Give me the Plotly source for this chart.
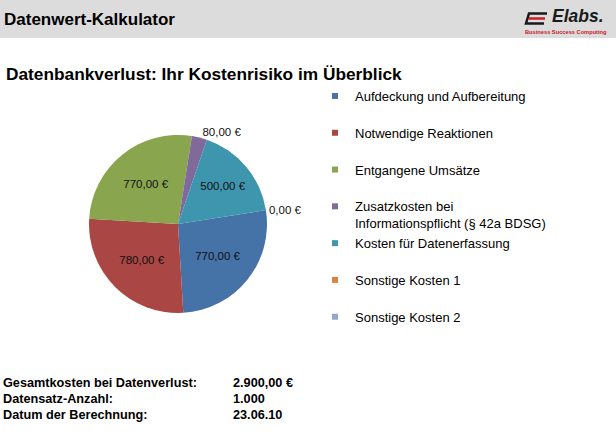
import plotly.graph_objects as go

# ---------------- data ----------------
categories = [
    "Aufdeckung und Aufbereitung",
    "Notwendige Reaktionen",
    "Entgangene Umsätze",
    "Zusatzkosten bei<br>Informationspflicht (§ 42a BDSG)",
    "Kosten für Datenerfassung",
    "Sonstige Kosten 1",
    "Sonstige Kosten 2",
]
values = [770, 780, 770, 80, 500, 0, 0]
colors = ["#4572A7", "#AA4643", "#89A54E", "#80699B", "#3D96AE", "#DB843D", "#92A8CD"]
label_positions = ["inside", "inside", "inside", "outside", "inside", "outside", "none"]

record_count = 1000
calc_date = "23.06.10"

main_title = "Datenwert-Kalkulator"
chart_title = "Datenbankverlust: Ihr Kostenrisiko im Überblick"
summary_labels = ["Gesamtkosten bei Datenverlust:", "Datensatz-Anzahl:", "Datum der Berechnung:"]

W, H = 616, 437
FONT = "Liberation Sans, Arial, sans-serif"


def de(v, d=2):
    s = f"{v:,.{d}f}"
    return s.replace(",", "X").replace(".", ",").replace("X", ".")


def X(px):
    return px / W


def Y(py):
    return 1 - py / H


slice_text = [de(v) + " €" for v in values]
summary_values = [de(sum(values)) + " €", de(record_count, 0), calc_date]

fig = go.Figure()

fig.add_trace(go.Pie(
    labels=categories,
    values=values,
    text=slice_text,
    textinfo="text",
    textposition=label_positions,
    insidetextorientation="horizontal",
    sort=False,
    direction="clockwise",
    rotation=81,
    marker=dict(colors=colors, line=dict(width=0)),
    textfont=dict(family=FONT, size=11.5, color="#111111"),
    outsidetextfont=dict(family=FONT, size=11.5, color="#111111"),
    insidetextfont=dict(family=FONT, size=11.5, color="#111111"),
    domain=dict(x=[X(89), X(267)], y=[Y(313), Y(135)]),
    showlegend=False,
    hoverinfo="label+text",
))

# legend entries (small square swatches like the original)
for name, c in zip(categories, colors):
    legend_name = name if "<br>" in name else name + "<br> "
    fig.add_trace(go.Scatter(
        x=[None], y=[None], mode="markers", name=legend_name,
        marker=dict(symbol="square", size=6, color=c),
        hoverinfo="skip",
    ))

shapes = [
    dict(type="rect", xref="paper", yref="paper", x0=0, x1=1, y0=Y(38), y1=1,
         fillcolor="#DCDCDC", line=dict(width=0), layer="below"),
    # logo icon
    dict(type="path", xref="paper", yref="paper",
         path=f"M {X(547)} {Y(13.5)} L {X(529)} {Y(13.5)} L {X(526)} {Y(23.5)} L {X(544)} {Y(23.5)}",
         line=dict(color="#1a1a1a", width=2.5)),
    dict(type="line", xref="paper", yref="paper", x0=X(529), x1=X(545), y0=Y(18.5), y1=Y(18.5),
         line=dict(color="#C8202A", width=2.5)),
]

annotations = [
    dict(text=f"<b>{main_title}</b>", x=X(2), y=Y(20), xref="paper", yref="paper",
         xanchor="left", yanchor="middle", showarrow=False,
         font=dict(family=FONT, size=17, color="#000000")),
    dict(text="<b><i>Elabs.</i></b>", x=X(578), y=Y(16), xref="paper", yref="paper",
         xanchor="center", yanchor="middle", showarrow=False, borderpad=0,
         font=dict(family=FONT, size=17.5, color="#1a1a1a")),
    dict(text="<b>Business Success Computing</b>", x=X(565.5), y=Y(31.5), xref="paper", yref="paper",
         xanchor="center", yanchor="middle", showarrow=False, borderpad=0,
         font=dict(family=FONT, size=5.7, color="#C8202A")),
    dict(text=f"<b>{chart_title}</b>", x=X(4), y=Y(74), xref="paper", yref="paper",
         xanchor="left", yanchor="middle", showarrow=False,
         font=dict(family=FONT, size=17.3, color="#000000")),
]

for i, (lab, val) in enumerate(zip(summary_labels, summary_values)):
    yy = Y(382.5 + 16 * i)
    annotations.append(dict(text=f"<b>{lab}</b>", x=X(1), y=yy, xref="paper", yref="paper",
                            xanchor="left", yanchor="middle", showarrow=False,
                            font=dict(family=FONT, size=12.7, color="#000000")))
    annotations.append(dict(text=f"<b>{val}</b>", x=X(231), y=yy, xref="paper", yref="paper",
                            xanchor="left", yanchor="middle", showarrow=False,
                            font=dict(family=FONT, size=12.7, color="#000000")))

fig.update_layout(
    width=W, height=H,
    margin=dict(l=0, r=0, t=0, b=0),
    paper_bgcolor="white", plot_bgcolor="white",
    xaxis=dict(visible=False), yaxis=dict(visible=False),
    font=dict(family=FONT, color="#000000"),
    shapes=shapes,
    annotations=annotations,
    legend=dict(
        x=X(315), y=Y(81), xanchor="left", yanchor="top",
        font=dict(family=FONT, size=13, color="#000000"),
        bgcolor="rgba(0,0,0,0)", borderwidth=0,
        valign="top", traceorder="normal",
    ),
)

fig.write_html("out.html", config={"displayModeBar": False},
               post_script="document.body.style.margin='0px';")
